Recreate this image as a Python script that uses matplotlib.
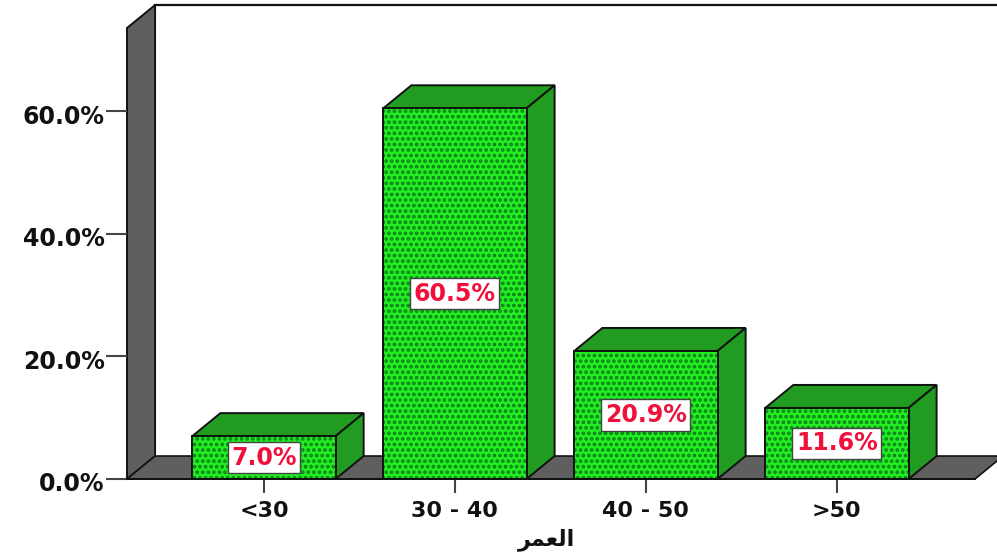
import matplotlib
matplotlib.use('Agg')
import matplotlib.pyplot as plt
from matplotlib.patches import Polygon
from matplotlib.transforms import ScaledTranslation

# age groups and share of respondents (%)
categories = ['<30', '30 - 40', '40 - 50', '>50']
percentages = [7.0, 60.5, 20.9, 11.6]
value_labels = ['7.0%', '60.5%', '20.9%', '11.6%']
y_ticks = [0, 20, 40, 60]
y_tick_labels = ['0.0%', '20.0%', '40.0%', '60.0%']
# matplotlib does no Arabic shaping, so use presentation forms in visual order
x_title = '\ufeae\ufee4\ufecc\ufedf\ufe8d'

FRONT = '#22ee22'
DOTS = '#0b7d1a'
SIDE = '#219c21'
WALL = '#5f5f5f'
INK = '#111111'
RED = '#f0103c'

plt.rcParams['hatch.linewidth'] = 1.8
plt.rcParams['hatch.color'] = DOTS
plt.rcParams['font.family'] = ['DejaVu Sans']

fig = plt.figure(figsize=(9.97, 5.58), dpi=100)
ax = fig.add_axes([127 / 997, 79 / 558, 848 / 997, 451 / 558])
ax.set_xlim(-0.717, 3.723)
ax.set_ylim(0, 73.6)

# depth of the fake 3d box in data units
dx = 0.147
dy = 3.75
bar_w = 0.75
x0, x1 = ax.get_xlim()
y0, y1 = ax.get_ylim()

# side wall and floor
ax.add_patch(Polygon([(x0, y0), (x0 + dx, y0 + dy), (x0 + dx, y1 + dy), (x0, y1)],
                     facecolor=WALL, edgecolor=INK, linewidth=1.4, clip_on=False, zorder=1))
ax.add_patch(Polygon([(x0, y0), (x0 + dx, y0 + dy), (x1 + dx, y0 + dy), (x1, y0)],
                     facecolor=WALL, edgecolor=INK, linewidth=1.2, clip_on=False, zorder=1))
ax.plot([x0 + dx, x1 + dx], [y1 + dy, y1 + dy], color=INK, linewidth=1.6, clip_on=False, zorder=1)

for i, val in enumerate(percentages):
    left = i - bar_w / 2
    right = i + bar_w / 2
    top = [(left, val), (left + dx, val + dy), (right + dx, val + dy), (right, val)]
    side = [(right, 0), (right + dx, dy), (right + dx, val + dy), (right, val)]
    for pts in (top, side):
        ax.add_patch(Polygon(pts, facecolor=SIDE, edgecolor=INK, linewidth=1.4,
                             clip_on=False, zorder=2))
    ax.bar(i, val, width=bar_w, color=FRONT, edgecolor=DOTS, hatch='...', linewidth=0, zorder=2)
    ax.bar(i, val, width=bar_w, fill=False, edgecolor=INK, linewidth=1.4, zorder=3)
    ax.text(i, val / 2, value_labels[i], ha='center', va='center', color=RED, fontsize=17,
            fontweight='bold', zorder=4,
            bbox=dict(boxstyle='square,pad=0.15', facecolor='white',
                      edgecolor='#444444', linewidth=1))

ax.patch.set_visible(False)
for name in ['top', 'right', 'left']:
    ax.spines[name].set_visible(False)
ax.spines['bottom'].set_color(INK)
ax.spines['bottom'].set_linewidth(1.4)
ax.spines['bottom'].set_zorder(5)

ax.set_xticks(range(len(categories)))
ax.set_xticklabels(categories, fontweight='bold', fontsize=16)
ax.set_yticks(y_ticks)
ax.set_yticklabels(y_tick_labels, fontweight='bold', fontsize=17)
ax.tick_params(axis='x', length=10, width=1.5, color='#444444', pad=6, labelcolor=INK)
ax.tick_params(axis='y', length=15, width=1.5, color='#444444', pad=1, labelcolor=INK)

# y labels sit slightly below their ticks
shift = ScaledTranslation(0, -2 / 72, fig.dpi_scale_trans)
for lab in ax.get_yticklabels():
    lab.set_transform(lab.get_transform() + shift)

ax.set_xlabel(x_title, fontweight='bold', fontsize=16, labelpad=5, color=INK, x=0.495)

plt.savefig('out.png', dpi=100)
